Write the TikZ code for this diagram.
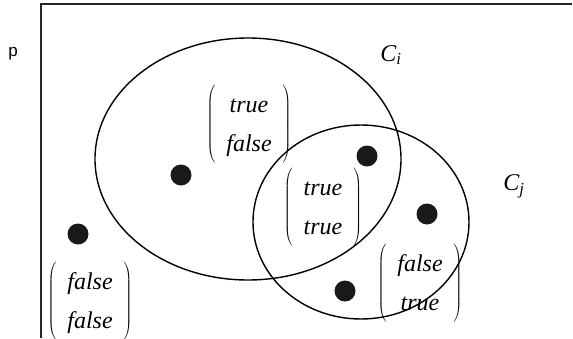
\documentclass[tikz,border=0pt]{standalone}
\usepackage{fontspec}
\setmainfont{Liberation Serif}
\setsansfont{Liberation Sans}
\usepackage{tikz}
\usetikzlibrary{positioning}

\newcommand{\tvpair}[2]{$\left(\vcenter{\hbox{\renewcommand{\arraystretch}{1.5}\begin{tabular}{@{\hspace{11pt}}c@{\hspace{11pt}}}\textit{#1}\\\textit{#2}\end{tabular}}}\right)$}

\begin{document}
\begin{tikzpicture}[
  x=1pt,y=-1pt,
  font=\fontsize{24}{26}\selectfont,
  pt/.style={circle,fill=black!90,inner sep=0pt,minimum size=21pt},
  vec/.style={inner sep=0pt},
]
\useasboundingbox (0,0) rectangle (573,338);

% frame
\coordinate (tl) at (41,4);
\coordinate (tr) at (572,4);
\coordinate (bl) at (41,338);
\draw[line width=1.4pt,black!85] (tr) -- (tl) -- (bl);
\node[font=\sffamily\fontsize{17}{18}\selectfont] (p) at (13,54) {p};

% clusters
\draw[line width=1.4pt] (248,159) ellipse [x radius=153, y radius=121];
\draw[line width=1.4pt] (361,222) ellipse [x radius=108, y radius=97];
\node (ci) at (391,55) {\textit{C\textsubscript{i}}};
\node (cj) at (514,186) {\textit{C\textsubscript{j}}};

% points
\node[pt] (a) at (181,175) {};
\node[pt] (b) at (367,156) {};
\node[pt] (c) at (427,214) {};
\node[pt] (d) at (345,291) {};
\node[pt] (e) at (78,234) {};

% truth values
\node[vec] (tf) at (249,124) {\tvpair{true}{false}};
\node[vec] (tt) at (323,207) {\tvpair{true}{true}};
\node[vec] (ft) at (420,283) {\tvpair{false}{true}};
\node[vec] (ff) at (90,301) {\tvpair{false}{false}};
\end{tikzpicture}
\end{document}
